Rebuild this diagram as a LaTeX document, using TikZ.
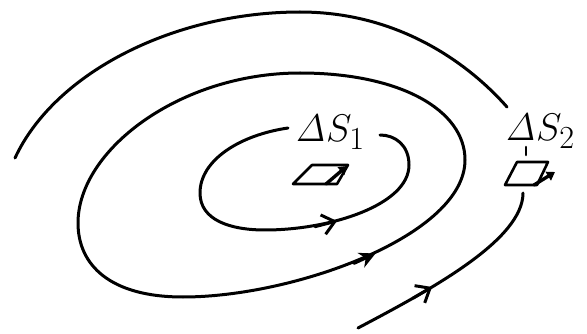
\documentclass[tikz,border=0pt]{standalone}
\usetikzlibrary{arrows.meta}
\begin{document}
\begin{tikzpicture}[x=1pt,y=-1pt,line cap=round,line join=round,
  flow/.style={draw,line width=3pt},
  barb/.style={line width=3pt,-{Straight Barb[length=12pt,width=20pt,line width=3pt]}},
  stealthtip/.style={line width=3pt,-{Stealth[length=16pt,width=16pt]}},
  surf/.style={draw,line width=2.6pt},
  normal/.style={line width=3.4pt,-{Triangle[length=8pt,width=10pt]}},
  lbl/.style={inner sep=0pt}]
\useasboundingbox (0,0) rectangle (587,334);

% labels
\node[lbl,anchor=base west] (dS1) at (295,142) {\scalebox{1.55}{\Huge$\mathit{\Delta} S_1$}};
\node[lbl,anchor=base west] (dS2) at (505,141) {\scalebox{1.55}{\Huge$\mathit{\Delta} S_2$}};

% outer open arc
\draw[flow] (15,158) .. controls (55,72) and (175,12) .. (300,12)
                     .. controls (400,12) and (470,65) .. (507,107);

% incoming line at bottom right
\draw[flow] (358,328) .. controls (430,290) and (523,240) .. (523,193);
\coordinate (b0) at (413,298.2);
\coordinate (b1) at (432,287);
\draw[barb] (b0) -- (b1);

% middle closed loop
\draw[flow] (300,73) .. controls (400,73) and (465,110) .. (465,160)
                     .. controls (465,235) and (295,297) .. (183,297)
                     .. controls (110,297) and (78,265) .. (78,223)
                     .. controls (78,150) and (180,73) .. cycle;
\coordinate (m0) at (354,263.4);
\coordinate (m1) at (375.5,253.5);
\draw[stealthtip] (m0) -- (m1);

% inner loop (broken by the label)
\draw[flow] (288,128) .. controls (240,135) and (200,160) .. (200,193)
                      .. controls (200,220) and (230,230) .. (265,230)
                      .. controls (330,230) and (409,205) .. (409,165)
                      .. controls (409,145) and (395,135) .. (380,135);
\coordinate (i0) at (315,226.7);
\coordinate (i1) at (337,221);
\draw[barb] (i0) -- (i1);

% surface element 1
\draw[surf] (312,165) -- (348,165) -- (337,184) -- (293,184) -- cycle;
\coordinate (n1a) at (326,184);
\coordinate (n1b) at (347,166);
\draw[normal] (n1a) -- (n1b);

% surface element 2
\draw[surf] (517,162) -- (548,162) -- (537,185) -- (505,185) -- cycle;
\draw[surf] (526,147) -- (526,155);
\coordinate (n2a) at (534,185);
\coordinate (n2b) at (555,172);
\draw[normal] (n2a) -- (n2b);
\end{tikzpicture}
\end{document}
